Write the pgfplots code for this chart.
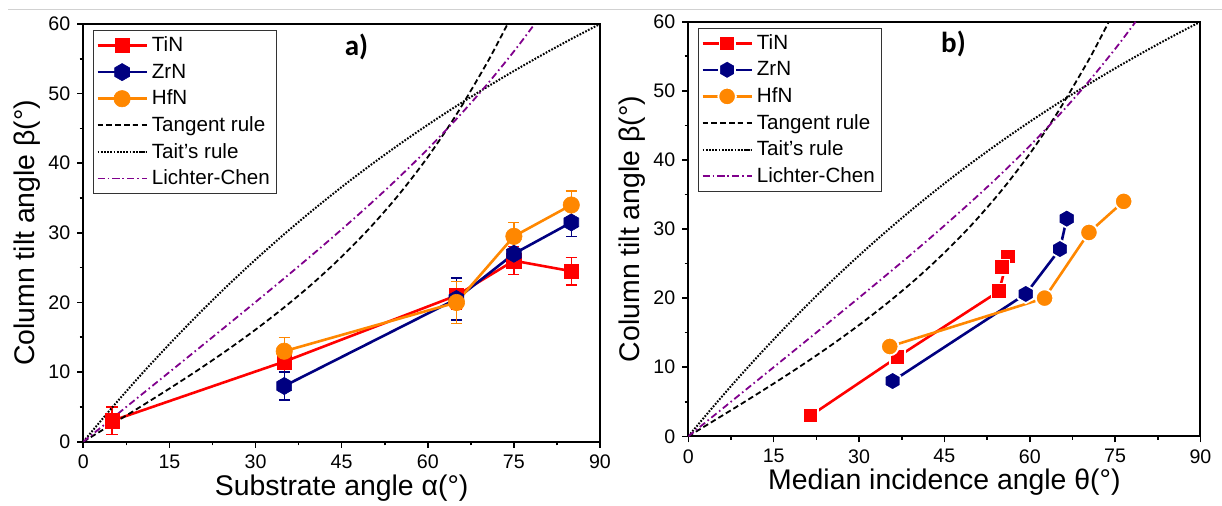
\documentclass[border=0pt]{standalone}
\usepackage{fontspec}
\setmainfont{Liberation Sans}
\newfontfamily\carlito{Carlito}
\usepackage{pgfplots}
\usepackage{pgfplotstable}
\pgfplotsset{compat=1.18}

\definecolor{tinred}{RGB}{255,0,0}
\definecolor{zrnblue}{RGB}{0,0,128}
\definecolor{hfnorange}{RGB}{255,135,0}
\definecolor{lcpurple}{RGB}{128,0,140}

\pgfdeclareplotmark{hex}{%
  \pgfpathmoveto{\pgfpointpolar{90}{\pgfplotmarksize}}%
  \pgfpathlineto{\pgfpointpolar{150}{\pgfplotmarksize}}%
  \pgfpathlineto{\pgfpointpolar{210}{\pgfplotmarksize}}%
  \pgfpathlineto{\pgfpointpolar{270}{\pgfplotmarksize}}%
  \pgfpathlineto{\pgfpointpolar{330}{\pgfplotmarksize}}%
  \pgfpathlineto{\pgfpointpolar{30}{\pgfplotmarksize}}%
  \pgfpathclose
  \pgfusepathqfillstroke}

% theoretical curves (read from the chart)
\pgfplotstableread{
x y
0 0
5 2.51
10 5.04
15 7.63
20 10.31
25 13.12
30 16.10
35 19.30
40 22.76
45 26.57
50 30.79
55 35.53
60 40.89
65 47.01
70 53.95
72 56.98
73.9 60
}\tangent
\pgfplotstableread{
x y
0 0
5 4.89
10 9.57
15 14.02
20 18.27
25 22.32
30 26.16
35 29.81
40 33.28
45 36.58
50 39.71
55 42.69
60 45.52
65 48.22
70 50.79
75 53.25
80 55.60
85 57.85
90 60
}\tait
\pgfplotstableread{
x y
0 0
5 3.33
10 6.67
15 10.00
20 13.34
25 16.69
30 20.06
35 23.47
40 26.93
45 30.49
50 34.16
55 37.99
60 42.04
65 46.36
70 51.00
75 56.06
78 59.32
78.6 60
}\lichter

% measured data, panel a
\pgfplotstableread{
x y e
5 3 2
35 11.5 1.5
65 21 2
75 26 2
85 24.5 2
}\tinA
\pgfplotstableread{
x y e
35 8 2
65 20.5 3
75 27 1.8
85 31.5 2
}\zrnA
\pgfplotstableread{
x y e
35 13 2
65 20 3
75 29.5 2
85 34 2
}\hfnA

% measured data, panel b
\pgfplotstableread{
x y
21.5 3
36.8 11.5
54.6 21
56.2 26
55.1 24.5
}\tinB
\pgfplotstableread{
x y
35.9 8
59.3 20.6
65.3 27.1
66.5 31.5
}\zrnB
\pgfplotstableread{
x y
35.4 13
62.6 20
70.4 29.5
76.5 34
}\hfnB

\pgfplotsset{
  panel/.style={
    scale only axis,
    xmin=0, xmax=90, ymin=0, ymax=60,
    xtick={0,15,...,90}, ytick={0,10,...,60},
    minor x tick num=1, minor y tick num=1,
    xtick pos=left, ytick pos=left,
    tick align=outside,
    major tick length=3pt, minor tick length=1.8pt,
    every tick/.style={black, line width=0.8pt},
    axis line style={line width=1pt},
    tick label style={font=\fontsize{9.8}{11}\selectfont},
    /pgf/number format/assume math mode=true,
    label style={font=\fontsize{14.2}{16}\selectfont},
    xlabel style={at={(axis description cs:0.5,0)}, anchor=center, yshift=-23pt},
    ylabel style={at={(axis description cs:-0.109,0.5)}, anchor=center},
    ylabel={Column tilt angle β(°)},
    legend cell align=left,
    legend style={at={(0,1)}, anchor=north west, xshift=4.7pt, yshift=-3pt,
      draw=black!80, line width=0.6pt, fill=white,
      font=\fontsize{10.3}{12}\selectfont, inner xsep=1.5pt, inner ysep=0.8pt,
      nodes={inner ysep=1pt, text height=8.7pt, text depth=2.6pt}},
    legend image code/.code={%
      \draw[mark repeat=2,mark phase=2,##1] plot coordinates {(0pt,0pt) (12.25pt,0pt) (24.5pt,0pt)};},
    clip=true,
  },
  tangentstyle/.style={black, line width=0.9pt, dash pattern=on 2.8pt off 1.6pt, no marks},
  taitstyle/.style={black, line width=1pt, dash pattern=on 0.85pt off 0.75pt, no marks},
  lcstyle/.style={lcpurple, line width=0.9pt, dash pattern=on 3.4pt off 1.6pt on 0.8pt off 1.6pt, no marks},
  errs/.style={error bars/.cd, y dir=both, y explicit,
    error bar style={line width=0.7pt, solid},
    error mark options={rotate=90, mark size=2.8pt, line width=0.7pt, solid}},
}

\begin{document}
\begin{tikzpicture}
\useasboundingbox (0,0) rectangle (611pt,252.5pt);
\draw[black!18, line width=0.6pt] (4pt,247.85pt) -- (611pt,247.85pt);

% ---------------- panel a ----------------
\begin{axis}[panel, at={(41.65pt,31.65pt)}, anchor=south west,
  width=258.35pt, height=208.85pt,
  xlabel={Substrate angle α(°)}]
\addplot[tinred, line width=1.3pt, mark=square*, mark size=3.6pt,
  mark options={solid, fill=tinred, draw=tinred, line width=0.3pt}, errs]
  table[x=x, y=y, y error=e] {\tinA};
\addlegendentry{TiN}
\addplot[zrnblue, line width=1.3pt, mark=hex, mark size=4.3pt,
  mark options={solid, fill=zrnblue, draw=zrnblue, line width=0.3pt}, errs]
  table[x=x, y=y, y error=e] {\zrnA};
\addlegendentry{ZrN}
\addplot[hfnorange, line width=1.3pt, mark=*, mark size=4.1pt,
  mark options={solid, fill=hfnorange, draw=hfnorange, line width=0.3pt}, errs]
  table[x=x, y=y, y error=e] {\hfnA};
\addlegendentry{HfN}
\addplot[tangentstyle, smooth] table[x=x, y=y] {\tangent};
\addlegendentry{Tangent rule}
\addplot[taitstyle, smooth] table[x=x, y=y] {\tait};
\addlegendentry{Tait's rule}
\addplot[lcstyle, smooth] table[x=x, y=y] {\lichter};
\addlegendentry{Lichter-Chen}
\node[font=\carlito\bfseries\fontsize{14.5}{16}\selectfont] at (axis cs:47.6,56.7) {a)};
\end{axis}

% ---------------- panel b ----------------
\begin{axis}[panel, at={(344.15pt,34.35pt)}, anchor=south west,
  width=256.1pt, height=207.3pt,
  xlabel={Median incidence angle θ(°)}]
\addplot[tinred, line width=1.3pt, mark=square*, mark size=3.8pt,
  mark options={solid, fill=tinred, draw=white, line width=0.9pt}]
  table[x=x, y=y] {\tinB};
\addlegendentry{TiN}
\addplot[zrnblue, line width=1.3pt, mark=hex, mark size=4.6pt,
  mark options={solid, fill=zrnblue, draw=white, line width=0.9pt}]
  table[x=x, y=y] {\zrnB};
\addlegendentry{ZrN}
\addplot[hfnorange, line width=1.3pt, mark=*, mark size=4.4pt,
  mark options={solid, fill=hfnorange, draw=white, line width=0.9pt}]
  table[x=x, y=y] {\hfnB};
\addlegendentry{HfN}
\addplot[tangentstyle, smooth] table[x=x, y=y] {\tangent};
\addlegendentry{Tangent rule}
\addplot[taitstyle, smooth] table[x=x, y=y] {\tait};
\addlegendentry{Tait's rule}
\addplot[lcstyle, smooth] table[x=x, y=y] {\lichter};
\addlegendentry{Lichter-Chen}
\node[font=\carlito\bfseries\fontsize{14.5}{16}\selectfont] at (axis cs:46.6,56.8) {b)};
\end{axis}
\end{tikzpicture}
\end{document}
